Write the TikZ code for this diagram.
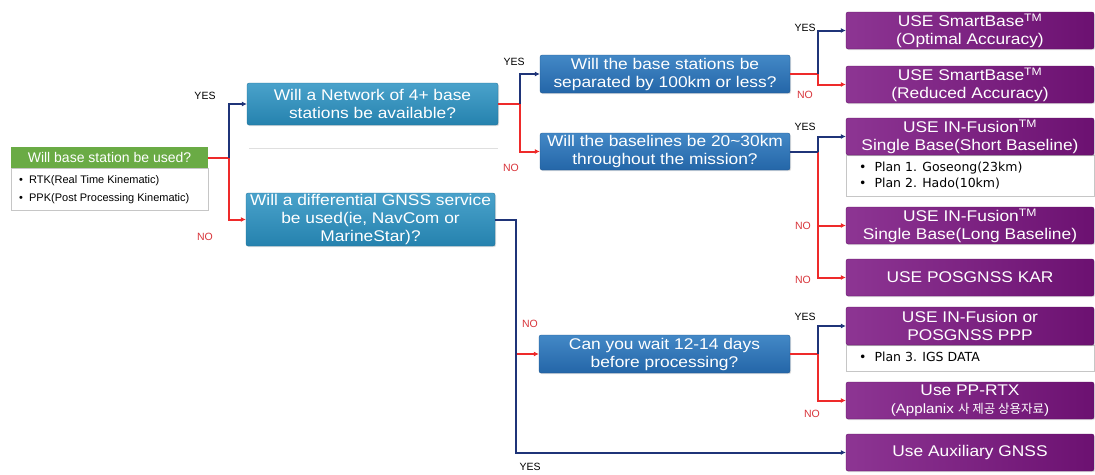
\documentclass[tikz,border=0pt]{standalone}
\usepackage{fontspec}
\setmainfont{Liberation Sans}
\newfontfamily\boxfont[FakeStretch=1.12]{Liberation Sans}
\newfontfamily\kr{Noto Sans CJK KR}
\newfontfamily\notefont{DejaVu Sans}
\usetikzlibrary{arrows.meta,shadows}
\definecolor{blueT}{HTML}{4AA2CB}
\definecolor{blueB}{HTML}{2582AE}
\definecolor{blue2T}{HTML}{4388C6}
\definecolor{blue2B}{HTML}{2466A8}
\definecolor{purL}{HTML}{8D3593}
\definecolor{purR}{HTML}{6C1171}
\definecolor{grn}{HTML}{6AAB45}
\definecolor{navyl}{HTML}{1F3478}
\definecolor{redl}{HTML}{EE2A2A}
\definecolor{redt}{HTML}{D8343A}
\tikzset{
  x=1pt, y=-1pt,
  shadowed/.style={drop shadow={opacity=0.25, shadow xshift=1pt, shadow yshift=-1.2pt}},
  qbox/.style={shadowed, rounded corners=2pt, text=white, align=center, inner sep=0pt,
    font=\boxfont\fontsize{15.5}{18}\selectfont, top color=blueT, bottom color=blueB, draw=blueB!85!black, line width=0.3pt},
  qboxb/.style={qbox, top color=blue2T, bottom color=blue2B, draw=blue2B!85!black},
  abox/.style={shadowed, rounded corners=2pt, text=white, align=center, inner sep=0pt,
    minimum width=248pt, font=\boxfont\fontsize{15.5}{18}\selectfont, left color=purL, right color=purR, draw=purR!85!black, line width=0.3pt},
  notebox/.style={shadowed, fill=white, draw=gray!45, line width=0.4pt, inner sep=0pt},
  notetext/.style={align=left, anchor=north west, inner sep=0pt},
  lab/.style={font=\fontsize{10.5}{10.5}\selectfont, text=black},
  nolab/.style={lab, text=redt},
  yesline/.style={draw=navyl, line width=2pt},
  noline/.style={draw=redl, line width=2pt},
  arr/.style={-{Latex[length=5pt,width=5pt]}}
}
\begin{document}
\begin{tikzpicture}
\useasboundingbox (0,0) rectangle (1095,474);
% start box
\node[notebox, minimum width=197pt, minimum height=42pt, anchor=north] (gn) at (109.5,167.5) {};
\node[notetext, font=\fontsize{11}{18}\selectfont] (gnt) at (19,175) {\textbullet\ \ RTK(Real Time Kinematic)\\\textbullet\ \ PPK(Post Processing Kinematic)};
\node[fill=grn, text=white, minimum width=197pt, minimum height=21pt, inner sep=0pt, font=\fontsize{14}{14}\selectfont] (gh) at (109.5,157.5) {Will base station be used?};
% separator
\draw[gray!25, line width=0.6pt] (249,148) -- (498,148);
% question boxes column 1
\node[qbox, minimum width=251pt, minimum height=42pt] (net) at (372.5,104) {Will a Network of 4+ base\\stations be available?};
\node[qbox, minimum width=249pt, minimum height=53pt] (diff) at (370.5,219.5) {Will a differential GNSS service\\be used(ie, NavCom or\\MarineStar)?};
% column 2
\node[qboxb, minimum width=250pt, minimum height=38pt] (bs) at (665,74) {Will the base stations be\\separated by 100km or less?};
\node[qboxb, minimum width=250pt, minimum height=37pt] (bl) at (665,151.5) {Will the baselines be 20\textasciitilde30km\\throughout the mission?};
\node[qboxb, minimum width=251pt, minimum height=38pt] (wait) at (664.5,354) {Can you wait 12-14 days\\before processing?};
% answers
\node[abox, minimum height=37pt] (p1) at (970,30.5) {USE SmartBase\textsuperscript{TM}\\(Optimal Accuracy)};
\node[abox, minimum height=37pt] (p2) at (970,84.5) {USE SmartBase\textsuperscript{TM}\\(Reduced Accuracy)};
\node[notebox, minimum width=248pt, minimum height=41pt, anchor=north] (n3) at (970,154.5) {};
\node[notetext, font=\notefont\fontsize{12.5}{16}\selectfont] (n3t) at (859,162) {\textbullet\ \ Plan 1. Goseong(23km)\\\textbullet\ \ Plan 2. Hado(10km)};
\node[abox, minimum height=37pt] (p3) at (970,136.5) {USE IN-Fusion\textsuperscript{TM}\\Single Base(Short Baseline)};
\node[abox, minimum height=37pt] (p4) at (970,225.5) {USE IN-Fusion\textsuperscript{TM}\\Single Base(Long Baseline)};
\node[abox, minimum height=37pt] (p5) at (970,277.5) {USE POSGNSS KAR};
\node[notebox, minimum width=248pt, minimum height=26pt, anchor=north] (n6) at (970,344.5) {};
\node[notetext, font=\notefont\fontsize{12.5}{16}\selectfont] (n6t) at (859,351.5) {\textbullet\ \ Plan 3. IGS DATA};
\node[abox, minimum height=38pt] (p6) at (970,326) {USE IN-Fusion or\\POSGNSS PPP};
\node[abox, minimum height=37pt] (p7) at (970,400.5) {Use PP-RTX\\{\fontsize{13.5}{15}\selectfont (Applanix {\kr\fontsize{12.5}{15}\selectfont 사 제공 상용자료})}};
\node[abox, minimum height=37pt] (p8) at (970,452.5) {Use Auxiliary GNSS};
% junctions
\coordinate (j1) at (229,157.5);
\coordinate (j2) at (520,104);
\coordinate (j3) at (818,74);
\coordinate (j4) at (818,151.5);
\coordinate (j5) at (516,219.5);
\coordinate (j6) at (818,354);
% connectors from start
\draw[noline] (gh.east) -- (j1);
\draw[noline, arr] (j1) |- (diff.west);
\draw[yesline, arr] (j1) |- (net.west);
% from network
\draw[noline] (net.east) -- (j2);
\draw[noline, arr] (j2) |- (bl.west);
\draw[yesline, arr] (j2) |- (bs.west);
% from base stations
\draw[noline] (bs.east) -- (j3);
\draw[noline, arr] (j3) |- (p2.west);
\draw[yesline, arr] (j3) |- (p1.west);
% from baselines
\draw[noline, arr] (j4) |- (p4.west);
\draw[noline, arr] (j4) |- (p5.west);
\draw[yesline] (bl.east) -- (j4);
\draw[yesline, arr] (j4) |- (p3.west);
% from differential
\draw[noline, arr] (j5 |- wait.west) -- (wait.west);
\draw[yesline, arr] (diff.east) -- (j5) |- (p8.west);
% from wait
\draw[noline] (wait.east) -- (j6);
\draw[noline, arr] (j6) |- (p7.west);
\draw[yesline, arr] (j6) |- (p6.west);
% labels
\node[lab] (l1) at (205,96) {YES};
\node[nolab] (l2) at (205,237) {NO};
\node[lab] (l3) at (514,62) {YES};
\node[nolab] (l4) at (511,168) {NO};
\node[lab] (l5) at (805,28) {YES};
\node[nolab] (l6) at (805,95) {NO};
\node[lab] (l7) at (805,127) {YES};
\node[nolab] (l8) at (803,226) {NO};
\node[nolab] (l9) at (803,280) {NO};
\node[nolab] (l10) at (530,324) {NO};
\node[lab] (l11) at (530,467) {YES};
\node[lab] (l12) at (805,317) {YES};
\node[nolab] (l13) at (812,414) {NO};
\end{tikzpicture}
\end{document}
